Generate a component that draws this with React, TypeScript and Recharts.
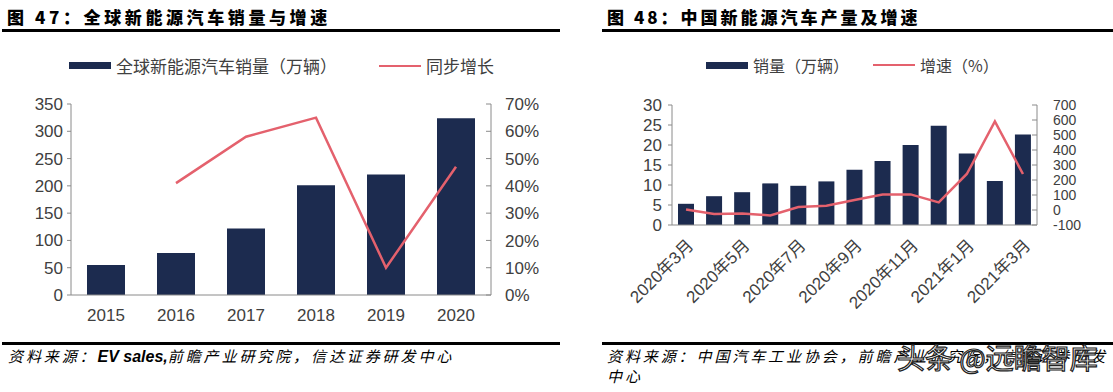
import { Bar, ComposedChart, Line, XAxis, YAxis } from 'recharts';

// 图47 全球新能源汽车销量与增速
const globalYears = ['2015', '2016', '2017', '2018', '2019', '2020'];
const globalSales = [55, 77, 122, 201, 221, 324];
const globalGrowth = [null, 41, 58, 65, 10, 47];
const globalSalesTicks = [0, 50, 100, 150, 200, 250, 300, 350];
const globalGrowthTicks = [0, 10, 20, 30, 40, 50, 60, 70];

// 图48 中国新能源汽车产量及增速
const cnMonths = [
  '2020年3月', '2020年4月', '2020年5月', '2020年6月', '2020年7月', '2020年8月', '2020年9月',
  '2020年10月', '2020年11月', '2020年12月', '2021年1月', '2021年2月', '2021年3月',
];
const cnSales = [5.3, 7.2, 8.2, 10.4, 9.8, 10.9, 13.8, 16.0, 20.0, 24.8, 17.9, 11.0, 22.6];
const cnGrowth = [3, -27, -24, -36, 20, 28, 67, 104, 104, 51, 240, 590, 240];
const cnSalesTicks = [0, 5, 10, 15, 20, 25, 30];
const cnGrowthTicks = [-100, 0, 100, 200, 300, 400, 500, 600, 700];

const globalData = globalYears.map((year, i) => ({
  year,
  sales: globalSales[i],
  growth: globalGrowth[i],
}));

const cnData = cnMonths.map((month, i) => ({
  month,
  sales: cnSales[i],
  growth: cnGrowth[i],
}));

const BAR = '#1c2b4f';
const LINE = '#e4616d';
const AXIS = '#8a8a8a';
const TEXT = '#404040';
const FONT = '"Liberation Sans", Arial, "Noto Sans CJK SC", sans-serif';
const CJK = '"Noto Sans CJK SC", "Liberation Sans", sans-serif';

// right-hand axis: tick marks point inwards, labels outside
function InnerTick(props: any) {
  const { x, y, payload, format, offset, size } = props;
  return (
    <g>
      <line x1={x - offset} x2={x - offset - 5} y1={y} y2={y} stroke={AXIS} />
      <text x={x} y={y} dy="0.36em" textAnchor="start" fill={TEXT} fontSize={size} fontFamily={FONT}>
        {format(payload.value)}
      </text>
    </g>
  );
}

function Title({ left, text, spacing }: { left: number; text: string; spacing: number }) {
  return (
    <div
      style={{
        position: 'absolute',
        left,
        top: 6,
        fontFamily: CJK,
        fontWeight: 900,
        fontSize: 17,
        letterSpacing: spacing,
        color: '#000',
        whiteSpace: 'nowrap',
        lineHeight: '22px',
      }}
    >
      {text}
    </div>
  );
}

function Rule({ left, width, top }: { left: number; width: number; top: number }) {
  return <div style={{ position: 'absolute', left, top, width, height: 3, background: '#000' }} />;
}

function LegendItems({
  left,
  fontSize,
  items,
}: {
  left: number;
  fontSize: number;
  items: { label: string; kind: 'bar' | 'line'; gap: number }[];
}) {
  return (
    <div
      style={{
        position: 'absolute',
        left,
        top: 53,
        display: 'flex',
        alignItems: 'center',
        fontFamily: CJK,
        fontSize,
        color: TEXT,
        whiteSpace: 'nowrap',
      }}
    >
      {items.map((item) => (
        <div key={item.label} style={{ display: 'flex', alignItems: 'center', marginRight: item.gap }}>
          <div
            style={{
              width: 42,
              height: item.kind === 'bar' ? 7 : 2,
              background: item.kind === 'bar' ? BAR : LINE,
              marginRight: 5,
            }}
          />
          <span>{item.label}</span>
        </div>
      ))}
    </div>
  );
}

const sourceStyle: any = {
  position: 'absolute',
  top: 346,
  fontFamily: CJK,
  fontStyle: 'italic',
  fontSize: 15,
  letterSpacing: 2.9,
  lineHeight: '20px',
  color: '#000',
  whiteSpace: 'nowrap',
};

export default function App() {
  return (
    <div style={{ position: 'absolute', left: 0, top: 0, width: 1113, height: 392, background: '#fff', overflow: 'hidden' }}>
      <Title left={7} spacing={3.6} text="图 47：全球新能源汽车销量与增速" />
      <Rule left={2} width={558} top={29} />
      <LegendItems
        left={69}
        fontSize={17}
        items={[
          { label: '全球新能源汽车销量（万辆）', kind: 'bar', gap: 42 },
          { label: '同步增长', kind: 'line', gap: 0 },
        ]}
      />

      <div style={{ position: 'absolute', left: 0, top: 90 }}>
        <ComposedChart
          width={560}
          height={240}
          data={globalData}
          margin={{ top: 14, right: 9, bottom: 5, left: 11 }}
        >
          <XAxis
            dataKey="year"
            height={30}
            stroke={AXIS}
            tickLine={false}
            tick={{ fill: TEXT, fontSize: 17, fontFamily: FONT }}
            tickMargin={8}
          />
          <YAxis
            yAxisId="left"
            width={60}
            domain={[0, 350]}
            ticks={globalSalesTicks}
            interval={0}
            stroke={AXIS}
            tickSize={4}
            tickMargin={4}
            tick={{ fill: TEXT, fontSize: 17, fontFamily: FONT }}
          />
          <YAxis
            yAxisId="right"
            orientation="right"
            width={60}
            domain={[0, 70]}
            ticks={globalGrowthTicks}
            interval={0}
            stroke={AXIS}
            tickLine={false}
            tickSize={4}
            tickMargin={10}
            tick={<InnerTick offset={14} size={17} format={(v: number) => `${v}%`} />}
          />
          <Bar yAxisId="left" dataKey="sales" fill={BAR} barSize={38} isAnimationActive={false} />
          <Line
            yAxisId="right"
            dataKey="growth"
            stroke={LINE}
            strokeWidth={2.5}
            dot={false}
            type="linear"
            isAnimationActive={false}
          />
        </ComposedChart>
      </div>

      <Rule left={2} width={558} top={342} />
      <div style={{ ...sourceStyle, left: 8 }}>
        资料来源：
        <span style={{ fontFamily: FONT, fontWeight: 700, fontSize: 16, letterSpacing: 0 }}>EV sales,</span>
        前瞻产业研究院，信达证券研发中心
      </div>

      <Title left={607} spacing={3.0} text="图 48：中国新能源汽车产量及增速" />
      <Rule left={602} width={511} top={29} />
      <LegendItems
        left={706}
        fontSize={16}
        items={[
          { label: '销量（万辆）', kind: 'bar', gap: 24 },
          { label: '增速（%）', kind: 'line', gap: 0 },
        ]}
      />

      <div style={{ position: 'absolute', left: 600, top: 90 }}>
        <ComposedChart
          width={513}
          height={230}
          data={cnData}
          margin={{ top: 15, right: 10, bottom: 15, left: 12 }}
        >
          <XAxis
            dataKey="month"
            height={80}
            stroke={AXIS}
            tickLine={false}
            interval={1}
            angle={-45}
            textAnchor="end"
            tickMargin={7}
            tick={{ fill: TEXT, fontSize: 17, fontFamily: FONT }}
          />
          <YAxis
            yAxisId="left"
            width={60}
            domain={[0, 30]}
            ticks={cnSalesTicks}
            interval={0}
            stroke={AXIS}
            tickSize={4}
            tickMargin={6}
            tick={{ fill: TEXT, fontSize: 17, fontFamily: FONT }}
          />
          <YAxis
            yAxisId="right"
            orientation="right"
            width={66}
            domain={[-100, 700]}
            ticks={cnGrowthTicks}
            interval={0}
            stroke={AXIS}
            tickLine={false}
            tickSize={4}
            tickMargin={12}
            tick={<InnerTick offset={16} size={14} format={(v: number) => `${v}`} />}
          />
          <Bar yAxisId="left" dataKey="sales" fill={BAR} barSize={16} isAnimationActive={false} />
          <Line
            yAxisId="right"
            dataKey="growth"
            stroke={LINE}
            strokeWidth={2.5}
            dot={false}
            type="linear"
            isAnimationActive={false}
          />
        </ComposedChart>
      </div>

      <Rule left={602} width={511} top={342} />
      <div style={{ ...sourceStyle, left: 607 }}>
        资料来源：中国汽车工业协会，前瞻产业研究院，信达证券研发
        <br />
        中心
      </div>
      <div
        style={{
          position: 'absolute',
          left: 897,
          top: 340,
          fontFamily: CJK,
          fontSize: 28,
          lineHeight: '34px',
          color: '#fff',
          WebkitTextStroke: '1.2px #222',
          whiteSpace: 'nowrap',
        }}
      >
        头条 @远瞻智库
      </div>
    </div>
  );
}
